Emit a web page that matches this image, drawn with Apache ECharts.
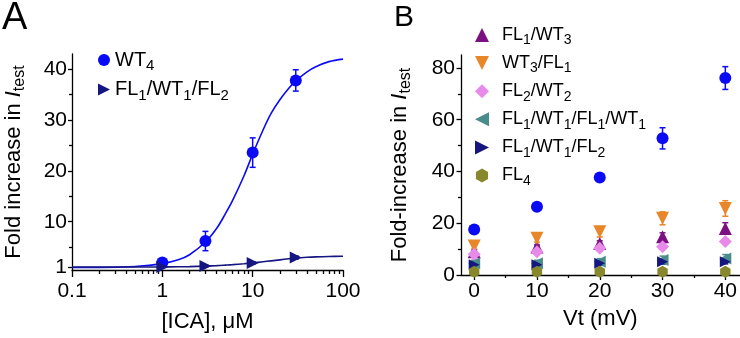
<!DOCTYPE html>
<html>
<head>
<meta charset="utf-8">
<script src="https://cdn.jsdelivr.net/npm/echarts@6/dist/echarts.min.js"></script>
<style>
  html, body { margin: 0; padding: 0; background: #fff; }
  #chart { width: 740px; height: 338px; }
</style>
</head>
<body>
<div id="chart"></div>
<script>
// ---------- Panel A: ICA concentration-response ----------
const icaConc = [1, 3, 10, 30];
const wt4IcaFold = [2.0, 6.2, 23.6, 37.8];
const wt4IcaErr = [0.3, 1.9, 2.9, 2.1];
const fl1wt1fl2IcaFold = [1.1, 1.3, 1.9, 2.95];
const fl1wt1fl2IcaErr = [0.1, 0.15, 0.2, 0.3];

// Fitted curves, sampled along the concentration axis
const fitConc = [0.1, 0.2, 0.5, 1, 1.5, 2, 3, 4, 5, 6, 8, 10, 13, 16, 20, 25, 30, 40, 50, 70, 100];
const wt4Fit = [1.0, 1.0, 1.2, 1.75, 2.5, 3.5, 6.0, 8.7, 11.6, 14.2, 19.0, 23.3, 28.0, 31.3, 34.0, 36.2, 37.7, 39.5, 40.5, 41.5, 42.0];
const fl1wt1fl2Fit = [1.08, 1.08, 1.09, 1.11, 1.14, 1.17, 1.27, 1.36, 1.46, 1.55, 1.73, 1.9, 2.12, 2.3, 2.5, 2.7, 2.85, 3.0, 3.08, 3.15, 3.2];

const icaMajorTicks = [0.1, 1, 10, 100];
const icaMinorTicks = [0.2, 0.3, 0.4, 0.5, 0.6, 0.7, 0.8, 0.9, 2, 3, 4, 5, 6, 7, 8, 9, 20, 30, 40, 50, 60, 70, 80, 90];
const foldMajorTicks = [1, 10, 20, 30, 40];
const foldMinorTicks = [5, 15, 25, 35];

// ---------- Panel B: test-pulse voltage dependence ----------
const vt = [0, 10, 20, 30, 40];
const wt4Vt = [17.6, 26.4, 37.7, 52.8, 76.1];
const wt4VtErr = [0.8, 1.0, 1.0, 4.1, 4.4];
const fl1wt3 = [9.0, 10.8, 12.2, 14.8, 18.0];
const fl1wt3Err = [0.8, 0.8, 1.0, 1.5, 2.2];
const wt3fl1 = [11.2, 14.2, 16.7, 21.9, 25.7];
const wt3fl1Err = [1.2, 1.5, 2.0, 2.5, 3.0];
const fl2wt2 = [8.0, 9.0, 10.3, 10.9, 12.9];
const fl2wt2Err = [1.0, 1.0, 1.0, 1.0, 1.0];
const fl1wt1fl1wt1 = [4.5, 4.5, 5.1, 5.8, 6.4];
const fl1wt1fl1wt1Err = [1.2, 1.2, 1.2, 1.5, 1.5];
const fl1wt1fl2Vt = [4.0, 4.0, 4.5, 5.1, 5.1];
const fl1wt1fl2VtErr = [0.8, 0.8, 0.8, 0.8, 0.8];
const fl4 = [1.3, 1.3, 1.3, 1.3, 1.3];
const fl4Err = [0.3, 0.3, 0.3, 0.3, 0.3];

const vtMajorTicks = [0, 10, 20, 30, 40];
const vtMinorTicks = [5, 15, 25, 35];
const foldBMajorTicks = [0, 20, 40, 60, 80];
const foldBMinorTicks = [10, 30, 50, 70];

// ---------- styling ----------
const FONT = '"Liberation Sans", Arial, sans-serif';
const C = {
  blue: '#0a0af5', navy: '#161680', purple: '#7c1080', orange: '#e8862a',
  violet: '#e78ae9', teal: '#4a8c8c', olive: '#87872c'
};
// marker shapes (pre-oriented so legend icons match the plotted marks)
const SYM = {
  up: 'path://M0,-1L1,1L-1,1Z',
  down: 'path://M-1,-1L1,-1L0,1Z',
  left: 'path://M1,-1L1,1L-1,0Z',
  right: 'path://M-1,-1L1,0L-1,1Z',
  diamond: 'path://M0,-1L1,0L0,1L-1,0Z',
  hex: 'path://M0,-1L0.866,-0.5L0.866,0.5L0,1L-0.866,0.5L-0.866,-0.5Z'
};

function zip(xs, ys, es) { return xs.map((x, i) => es ? [x, ys[i], es[i]] : [x, ys[i]]); }

function subRich(size, subSize, drop, gap) {
  return {
    s: { fontSize: subSize, fontFamily: FONT, color: '#000', padding: [drop, 0, 0, 0] },
    i: { fontSize: size, fontFamily: FONT, color: '#000', fontStyle: 'italic' },
    g: { width: gap || 0, fontSize: size }
  };
}

const legendLabels = {
  'WT4 (ICA)': 'WT{s|4}',
  'FL1/WT1/FL2 (ICA)': 'FL{s|1}/WT{s|1}/FL{s|2}',
  'FL1/WT3': 'FL{s|1}/WT{s|3}',
  'WT3/FL1': 'WT{s|3}/FL{s|1}',
  'FL2/WT2': 'FL{s|2}/WT{s|2}',
  'FL1/WT1/FL1/WT1': 'FL{s|1}/WT{s|1}/FL{s|1}/WT{s|1}',
  'FL1/WT1/FL2 (Vt)': 'FL{s|1}/WT{s|1}/FL{s|2}',
  'FL4': 'FL{s|4}'
};

function errorBars(name, data, color, xi, yi, cap) {
  return {
    name: name + ' err', type: 'custom', xAxisIndex: xi, yAxisIndex: yi, data: data,
    encode: { x: 0, y: 1 }, silent: true,
    renderItem: function (params, api) {
      const x = api.value(0), y = api.value(1), e = api.value(2);
      const hi = api.coord([x, y + e]);
      const lo = api.coord([x, y - e]);
      const st = { stroke: color, lineWidth: 1.5 };
      return {
        type: 'group', children: [
          { type: 'line', shape: { x1: hi[0], y1: hi[1], x2: lo[0], y2: lo[1] }, style: st },
          { type: 'line', shape: { x1: hi[0] - cap, y1: hi[1], x2: hi[0] + cap, y2: hi[1] }, style: st },
          { type: 'line', shape: { x1: lo[0] - cap, y1: lo[1], x2: lo[0] + cap, y2: lo[1] }, style: st }
        ]
      };
    }
  };
}

function scatter(name, data, color, symbol, size, xi, yi) {
  return {
    name: name, type: 'scatter', xAxisIndex: xi, yAxisIndex: yi, data: data,
    symbol: symbol, symbolSize: size, symbolKeepAspect: true,
    itemStyle: { color: color, opacity: 1 }, z: 3
  };
}

const tickLine = { color: '#000', width: 1.3 };
const axisLine = { show: true, onZero: false, lineStyle: tickLine };
const labelStyle = { color: '#000', fontSize: 21, fontFamily: FONT };
const nameStyle = { color: '#000', fontSize: 22, fontFamily: FONT };

function minorAxis(type, gi, pos, min, max, ticks, len) {
  const ax = {
    type: type, gridIndex: gi, position: pos, min: min, max: max,
    axisLine: { show: false, onZero: false },
    axisTick: { show: true, length: len, customValues: ticks, lineStyle: tickLine },
    axisLabel: { show: false }, splitLine: { show: false }
  };
  if (type === 'log') ax.logBase = 10;
  return ax;
}

const chart = echarts.init(document.getElementById('chart'), null, { renderer: 'canvas' });

chart.setOption({
  backgroundColor: '#fff',
  animation: false,
  textStyle: { fontFamily: FONT },
  grid: [
    { left: 66, top: 54, width: 277, height: 223.3 },
    { left: 461, top: 55, width: 279, height: 220 }
  ],
  xAxis: [
    {
      type: 'log', logBase: 10, gridIndex: 0, position: 'bottom', min: 0.1, max: 100,
      axisLine: axisLine,
      axisTick: { length: 7, customValues: icaMajorTicks, lineStyle: tickLine },
      axisLabel: Object.assign({ margin: 11, customValues: icaMajorTicks, formatter: v => String(v) }, labelStyle),
      splitLine: { show: false },
      name: '[ICA], μM', nameLocation: 'middle', nameGap: 41, nameTextStyle: nameStyle
    },
    minorAxis('log', 0, 'bottom', 0.1, 100, icaMinorTicks, 4),
    {
      type: 'value', gridIndex: 1, position: 'bottom', min: -2.1, max: 42.3,
      axisLine: axisLine,
      axisTick: { length: 5, customValues: vtMajorTicks, lineStyle: tickLine },
      axisLabel: Object.assign({ margin: 6, customValues: vtMajorTicks }, labelStyle),
      splitLine: { show: false },
      name: 'Vt (mV)', nameLocation: 'middle', nameGap: 33, nameTextStyle: nameStyle
    },
    minorAxis('value', 1, 'bottom', -2.1, 42.3, vtMinorTicks, 3)
  ],
  yAxis: [
    {
      type: 'value', gridIndex: 0, position: 'left', min: 0.5, max: 43,
      axisLine: axisLine,
      axisTick: { length: 4, customValues: foldMajorTicks, lineStyle: tickLine },
      axisLabel: Object.assign({ margin: 5, customValues: foldMajorTicks }, labelStyle),
      splitLine: { show: false },
      name: 'Fold increase in {i|I}{s|test}', nameLocation: 'middle', nameRotate: 90, nameGap: 45,
      nameTextStyle: Object.assign({ lineHeight: 26, rich: subRich(22, 16, 12) }, nameStyle)
    },
    minorAxis('value', 0, 'left', 0.5, 43, foldMinorTicks, 3),
    {
      type: 'value', gridIndex: 1, position: 'left', min: 0, max: 85,
      axisLine: axisLine,
      axisTick: { length: 4.5, customValues: foldBMajorTicks, lineStyle: tickLine },
      axisLabel: Object.assign({ margin: 6, customValues: foldBMajorTicks }, labelStyle),
      splitLine: { show: false },
      name: 'Fold-increase in {i|I}{s|test}', nameLocation: 'middle', nameRotate: 90, nameGap: 48,
      nameTextStyle: Object.assign({ lineHeight: 26, rich: subRich(22, 16, 12) }, nameStyle)
    },
    minorAxis('value', 1, 'left', 0, 85, foldBMinorTicks, 3)
  ],
  legend: [
    {
      data: ['WT4 (ICA)', 'FL1/WT1/FL2 (ICA)'],
      orient: 'vertical', left: 98, top: 48, padding: 0, itemWidth: 12, itemHeight: 12, itemGap: 4,
      selectedMode: false,
      formatter: n => legendLabels[n],
      textStyle: { fontSize: 20, lineHeight: 24, fontFamily: FONT, color: '#000', rich: subRich(20, 15, 12) }
    },
    {
      data: ['FL1/WT3', 'WT3/FL1', 'FL2/WT2', 'FL1/WT1/FL1/WT1', 'FL1/WT1/FL2 (Vt)', 'FL4'],
      orient: 'vertical', left: 475, top: 24, padding: 0, itemWidth: 14, itemHeight: 14, itemGap: 4.6,
      selectedMode: false,
      formatter: n => '{g|}' + legendLabels[n],
      textStyle: { fontSize: 18, lineHeight: 22, fontFamily: FONT, color: '#000', rich: subRich(18, 14, 11, 8) }
    }
  ],
  graphic: [
    { type: 'text', left: 2, top: 0, style: { text: 'A', font: '38px ' + FONT, fill: '#000' } },
    { type: 'text', left: 394, top: 3, style: { text: 'B', font: '30px ' + FONT, fill: '#000' } }
  ],
  series: [
    // Panel A: fitted curves
    { name: 'WT4 fit', type: 'line', xAxisIndex: 0, yAxisIndex: 0, data: zip(fitConc, wt4Fit),
      smooth: 0.35, showSymbol: false, lineStyle: { color: C.blue, width: 1.6 }, z: 2 },
    { name: 'FL1/WT1/FL2 fit', type: 'line', xAxisIndex: 0, yAxisIndex: 0, data: zip(fitConc, fl1wt1fl2Fit),
      smooth: 0.35, showSymbol: false, lineStyle: { color: C.navy, width: 1.6 }, z: 2 },
    errorBars('WT4 (ICA)', zip(icaConc, wt4IcaFold, wt4IcaErr), C.blue, 0, 0, 3),
    scatter('WT4 (ICA)', zip(icaConc, wt4IcaFold), C.blue, 'circle', 12, 0, 0),
    errorBars('FL1/WT1/FL2 (ICA)', zip(icaConc, fl1wt1fl2IcaFold, fl1wt1fl2IcaErr), C.navy, 0, 0, 3),
    scatter('FL1/WT1/FL2 (ICA)', zip(icaConc, fl1wt1fl2IcaFold), C.navy, SYM.right, 12, 0, 0),

    // Panel B
    errorBars('WT4 (Vt)', zip(vt, wt4Vt, wt4VtErr), C.blue, 2, 2, 3),
    scatter('WT4 (Vt)', zip(vt, wt4Vt), C.blue, 'circle', 12, 2, 2),
    errorBars('FL1/WT3', zip(vt, fl1wt3, fl1wt3Err), C.purple, 2, 2, 3),
    scatter('FL1/WT3', zip(vt, fl1wt3), C.purple, SYM.up, 13, 2, 2),
    errorBars('WT3/FL1', zip(vt, wt3fl1, wt3fl1Err), C.orange, 2, 2, 3),
    scatter('WT3/FL1', zip(vt, wt3fl1), C.orange, SYM.down, 13, 2, 2),
    errorBars('FL2/WT2', zip(vt, fl2wt2, fl2wt2Err), C.violet, 2, 2, 3),
    scatter('FL2/WT2', zip(vt, fl2wt2), C.violet, SYM.diamond, 13, 2, 2),
    errorBars('FL1/WT1/FL1/WT1', zip(vt, fl1wt1fl1wt1, fl1wt1fl1wt1Err), C.teal, 2, 2, 3),
    scatter('FL1/WT1/FL1/WT1', zip(vt, fl1wt1fl1wt1), C.teal, SYM.left, 12, 2, 2),
    errorBars('FL1/WT1/FL2 (Vt)', zip(vt, fl1wt1fl2Vt, fl1wt1fl2VtErr), C.navy, 2, 2, 3),
    scatter('FL1/WT1/FL2 (Vt)', zip(vt, fl1wt1fl2Vt), C.navy, SYM.right, 11, 2, 2),
    errorBars('FL4', zip(vt, fl4, fl4Err), C.olive, 2, 2, 3),
    scatter('FL4', zip(vt, fl4), C.olive, SYM.hex, 12, 2, 2)
  ]
});
</script>
</body>
</html>
